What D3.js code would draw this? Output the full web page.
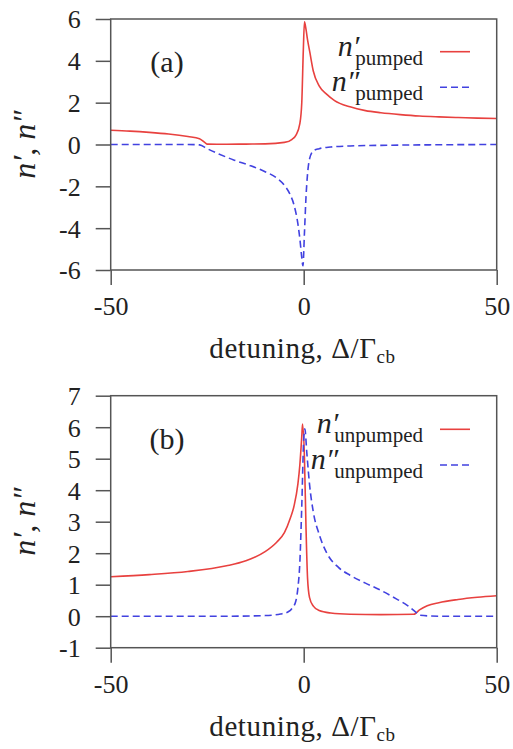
<!DOCTYPE html>
<html>
<head>
<meta charset="utf-8">
<script src="https://cdn.jsdelivr.net/npm/d3@7"></script>
<style>
  body { margin: 0; background: #fff; }
  svg text { font-family: "Liberation Serif", "Times New Roman", Tinos, Times, "Noto Serif", "DejaVu Serif", Georgia, serif; fill: #222; }
</style>
</head>
<body>
<script>
// ---- data ----
// panel (a): pumped
let pumpedRealX = [-50, -45, -40, -35, -30, -27, -25.5, -25, -20, -15, -10, -5, -3, -2, -1, -0.5, -0.1, 0.2, 0.6, 1, 1.6, 2.5, 4, 6, 8, 12, 16, 20, 25, 30, 35, 40, 45, 50];
let pumpedRealY = [0.68, 0.64, 0.58, 0.5, 0.38, 0.28, 0.08, 0.02, 0.01, 0.02, 0.03, 0.1, 0.25, 0.45, 1.0, 2.0, 4.5, 5.87, 5.5, 5.0, 4.4, 3.5, 2.8, 2.4, 2.1, 1.8, 1.62, 1.52, 1.43, 1.36, 1.32, 1.29, 1.26, 1.24];
let pumpedImagX = [-50, -40, -30, -27, -25, -22, -18, -14, -10, -7, -5, -3.5, -2.5, -1.5, -1, -0.5, -0.2, 0.2, 0.6, 1, 1.5, 2.5, 4, 7, 12, 20, 30, 50];
let pumpedImagY = [0, 0, 0, -0.02, -0.2, -0.45, -0.75, -1.0, -1.3, -1.6, -1.95, -2.4, -2.9, -3.8, -4.5, -5.4, -5.8, -4.2, -2.5, -1.4, -0.7, -0.3, -0.2, -0.12, -0.07, -0.04, -0.02, 0];

// panel (b): unpumped
let unpumpedRealX = [-50, -40, -30, -20, -15, -10, -7, -5, -3.5, -2.5, -1.5, -1, -0.5, -0.3, 0.2, 0.6, 1, 1.5, 2.5, 4, 7, 12, 20, 28.5, 30, 32, 35, 40, 45, 50];
let unpumpedRealY = [1.25, 1.32, 1.42, 1.6, 1.76, 2.05, 2.35, 2.65, 3.1, 3.5, 4.2, 4.8, 5.7, 6.1, 5.0, 2.8, 1.2, 0.6, 0.32, 0.18, 0.1, 0.06, 0.05, 0.06, 0.2, 0.33, 0.43, 0.53, 0.6, 0.65];
let unpumpedImagX = [-50, -20, -10, -6, -4, -3, -2, -1.5, -1, -0.5, 0, 0.3, 0.8, 1.5, 2.5, 4, 6, 9, 12, 16, 20, 24, 27, 29, 30, 35, 50];
let unpumpedImagY = [0, 0, 0.02, 0.07, 0.14, 0.25, 0.5, 0.9, 1.7, 3.5, 5.6, 5.95, 5.2, 4.2, 3.3, 2.6, 2.0, 1.55, 1.3, 1.05, 0.82, 0.55, 0.33, 0.13, 0.03, 0, 0];

let xTicks = [-50, 0, 50];
let yTicksA = [-6, -4, -2, 0, 2, 4, 6];
let yTicksB = [-1, 0, 1, 2, 3, 4, 5, 6, 7];

let redColor = "#e8413f",
	blueColor = "#4242e0";

let svg = d3.select("body").append("svg")
	.attr("width", 513)
	.attr("height", 749);

function zip(xs, ys) {
	return xs.map((x, i) => ({ x: x, y: ys[i] }));
}

function drawPanel(opt) {
	let left = 110.7, right = 496.7;
	let x = d3.scaleLinear().domain([-50, 50]).range([left, right]);
	let y = d3.scaleLinear().domain(opt.yDomain).range([opt.bottom, opt.top]);

	let g = svg.append("g");

	g.append("clipPath").attr("id", opt.id)
		.append("rect")
		.attr("x", left).attr("y", opt.top)
		.attr("width", right - left).attr("height", opt.bottom - opt.top);

	let line = d3.line()
		.x(d => x(d.x))
		.y(d => y(d.y))
		.curve(d3.curveMonotoneX);

	// curves
	g.append("path")
		.datum(zip(opt.realX, opt.realY))
		.attr("clip-path", `url(#${opt.id})`)
		.attr("d", line)
		.attr("fill", "none")
		.attr("stroke", redColor)
		.attr("stroke-width", 1.6);

	g.append("path")
		.datum(zip(opt.imagX, opt.imagY))
		.attr("clip-path", `url(#${opt.id})`)
		.attr("d", line)
		.attr("fill", "none")
		.attr("stroke", blueColor)
		.attr("stroke-width", 1.6)
		.attr("stroke-dasharray", "7,4");

	// axes (outward ticks, no domain line; the frame is drawn separately)
	let yAxis = g.append("g")
		.attr("transform", `translate(${left},0)`)
		.call(d3.axisLeft(y).tickValues(opt.yTicks).tickSize(15).tickPadding(15));
	let xAxis = g.append("g")
		.attr("transform", `translate(0,${opt.bottom})`)
		.call(d3.axisBottom(x).tickValues(xTicks).tickSize(15).tickPadding(16));

	[yAxis, xAxis].forEach(a => {
		a.attr("font-family", null).attr("font-size", null);
		a.select(".domain").remove();
		a.selectAll(".tick line").attr("stroke", "#555").attr("stroke-width", 1.5);
		a.selectAll(".tick text")
			.style("font-size", "26px")
			.attr("fill", "#222")
			.text(d => d < 0 ? "-" + Math.abs(d) : d);
	});
	yAxis.selectAll(".tick text").attr("dy", "0.34em");
	xAxis.selectAll(".tick text").attr("dy", "0.55em");

	// frame
	g.append("rect")
		.attr("x", left).attr("y", opt.top)
		.attr("width", right - left).attr("height", opt.bottom - opt.top)
		.attr("fill", "none")
		.attr("stroke", "#555")
		.attr("stroke-width", 1.5);

	// axis labels
	let xl = g.append("text")
		.attr("x", 302.5)
		.attr("y", opt.bottom + 88)
		.attr("text-anchor", "middle")
		.style("font-size", "29px")
		.style("letter-spacing", "0.6px");
	xl.append("tspan").text("detuning, Δ/Γ");
	xl.append("tspan").attr("dy", 5).style("font-size", "19px").text("cb");

	let yl = g.append("text")
		.attr("transform", `translate(35,${(opt.top + opt.bottom) / 2}) rotate(-90)`)
		.attr("text-anchor", "middle")
		.style("font-size", "32px")
		.style("font-style", "italic");
	yl.text("n′, n″");

	// panel tag
	g.append("text")
		.attr("x", 167)
		.attr("y", opt.top + 53)
		.attr("text-anchor", "middle")
		.style("font-size", "30px")
		.text(opt.tag);

	// legend
	let entries = [
		{ prime: "′", color: redColor, dash: null, yy: opt.legendY[0] },
		{ prime: "″", color: blueColor, dash: "7,4", yy: opt.legendY[1] }
	];
	entries.forEach(e => {
		let t = g.append("text")
			.attr("x", 423)
			.attr("y", e.yy + 4)
			.attr("text-anchor", "end");
		t.append("tspan").style("font-size", "30px").style("font-style", "italic").text("n" + e.prime);
		t.append("tspan").attr("dy", 9).attr("dx", -4).style("font-size", "21px").text(opt.sub);
		g.append("line")
			.attr("x1", 440).attr("x2", 470)
			.attr("y1", e.yy).attr("y2", e.yy)
			.attr("stroke", e.color)
			.attr("stroke-width", 1.6)
			.attr("stroke-dasharray", e.dash);
	});
}

drawPanel({
	id: "clipA", top: 19, bottom: 270, yDomain: [-6, 6], yTicks: yTicksA,
	realX: pumpedRealX, realY: pumpedRealY, imagX: pumpedImagX, imagY: pumpedImagY,
	tag: "(a)", sub: "pumped", legendY: [51.7, 87.3]
});

drawPanel({
	id: "clipB", top: 395.7, bottom: 647.7, yDomain: [-1, 7], yTicks: yTicksB,
	realX: unpumpedRealX, realY: unpumpedRealY, imagX: unpumpedImagX, imagY: unpumpedImagY,
	tag: "(b)", sub: "unpumped", legendY: [429.3, 465]
});
</script>
</body>
</html>
